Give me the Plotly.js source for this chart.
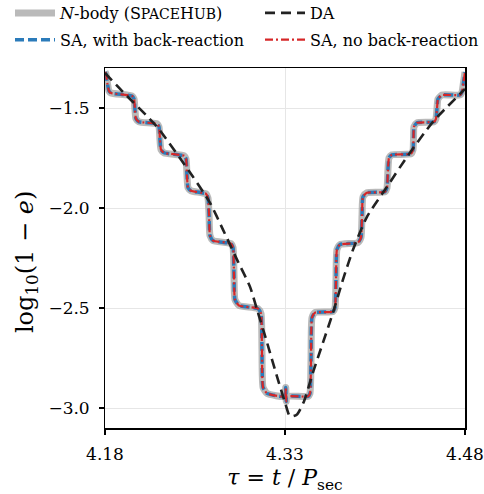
<!DOCTYPE html>
<html>
<head>
<meta charset="utf-8">
<script src="https://cdn.plot.ly/plotly-3.0.1.min.js"></script>
<style>html,body{margin:0;padding:0;background:#fff;}#chart{width:484px;height:494px;}</style>
</head>
<body>
<div id="chart"></div>
<script>
// N-body / SA staircase
const tau = [4.1800,4.1808,4.1821,4.1833,4.1850, 4.2025,4.2042,4.2050,4.2058,4.2083, 4.2233,4.2250,4.2258,4.2267,4.2292, 4.2458,4.2475,4.2483,4.2492,4.2517, 4.2642,4.2658,4.2667,4.2675,4.2700, 4.2850,4.2867,4.2875,4.2883,4.2917, 4.3075,4.3100,4.3108,4.3117,4.3150, 4.3300,4.3306,4.3310,4.3314, 4.3492,4.3508,4.3517,4.3525,4.3550, 4.3700,4.3717,4.3725,4.3733,4.3758, 4.3908,4.3933,4.3942,4.3950,4.3983, 4.4133,4.4150,4.4158,4.4167,4.4192, 4.4350,4.4367,4.4371,4.4375,4.4400, 4.4542,4.4558,4.4567,4.4575,4.4608, 4.4758,4.4775,4.4788,4.4800];
const nbody = [-1.320,-1.330,-1.380,-1.415,-1.425, -1.440,-1.455,-1.510,-1.554,-1.569, -1.579,-1.594,-1.659,-1.709,-1.724, -1.739,-1.754,-1.834,-1.899,-1.914, -1.929,-1.949,-2.034,-2.138,-2.163, -2.178,-2.198,-2.333,-2.458,-2.488, -2.503,-2.528,-2.707,-2.897,-2.927, -2.942,-2.897,-2.967,-2.942, -2.942,-2.927,-2.757,-2.548,-2.523, -2.518,-2.498,-2.358,-2.208,-2.183, -2.173,-2.148,-2.034,-1.944,-1.924, -1.919,-1.899,-1.809,-1.749,-1.734, -1.729,-1.709,-1.649,-1.594,-1.574, -1.569,-1.554,-1.500,-1.455,-1.435, -1.435,-1.420,-1.370,-1.320];
const saBack = nbody.slice();
const saNoBack = nbody.slice();
// Double-averaged curve
const daTau = [4.18, 4.195, 4.2233, 4.2533, 4.2675, 4.2783, 4.29, 4.3008, 4.3067, 4.315, 4.3233, 4.33, 4.3342, 4.34, 4.3458, 4.3533, 4.3617, 4.37, 4.3783, 4.3867, 4.3983, 4.415, 4.4317, 4.4533, 4.48];
const daLog = [-1.325, -1.420, -1.594, -1.844, -1.974, -2.108, -2.258, -2.393, -2.508, -2.672, -2.842, -2.972, -3.042, -3.032, -2.967, -2.822, -2.672, -2.523, -2.358, -2.208, -2.044, -1.894, -1.744, -1.569, -1.405];
const xTicks = [4.18, 4.33, 4.48];
const xTickText = ['4.18', '4.33', '4.48'];
const yTicks = [-1.5, -2.0, -2.5, -3.0];
const yTickText = ['\u22121.5\u00a0', '\u22122.0\u00a0', '\u22122.5\u00a0', '\u22123.0\u00a0'];
const yTitle = 'log<sub>10</sub>(1 \u2212 <i>e</i>)';
const xTitle = '<i>τ</i> = <i>t</i> / <i>P</i><sub>sec</sub>';

const FONT = 'DejaVu Serif';
const traces = [
  {x: tau, y: nbody, mode: 'lines', name: '<i>N</i>-body (S<span style="font-size:14px">PACE</span>H<span style="font-size:14px">UB</span>)',
   line: {color: 'rgba(160,160,160,0.72)', width: 7, shape: 'spline', smoothing: 0.5}, legend: 'legend', legendgroup: 'a'},
  {x: tau, y: saBack, mode: 'lines', name: 'SA, with back-reaction',
   line: {color: '#2b7bba', width: 3.5, dash: '9px,4px', shape: 'spline', smoothing: 0.5}, legend: 'legend', legendgroup: 'b'},
  {x: tau, y: saNoBack, mode: 'lines', name: 'SA, no back-reaction',
   line: {color: '#d62728', width: 2.2, dash: '8px,3px,2px,3px', shape: 'spline', smoothing: 0.5}, legend: 'legend2', legendgroup: 'd', legendrank: 2},
  {x: daTau, y: daLog, mode: 'lines', name: 'DA',
   line: {color: '#222222', width: 2.6, dash: '10px,6px', shape: 'spline', smoothing: 0.6}, legend: 'legend2', legendgroup: 'c', legendrank: 1}
];

const legCommon = {orientation: 'v', xref: 'container', yref: 'paper', xanchor: 'left', yanchor: 'top', y: 1 + 72 / 360,
  itemwidth: 40, traceorder: 'grouped', tracegroupgap: 3, bgcolor: 'rgba(0,0,0,0)',
  font: {family: FONT, size: 16, color: '#000'}};

const layout = {
  width: 484, height: 494,
  margin: {l: 105, r: 19, t: 68, b: 66, autoexpand: false},
  paper_bgcolor: '#fff', plot_bgcolor: '#fff',
  font: {family: FONT, size: 17, color: '#000'},
  showlegend: true,
  legend: Object.assign({}, legCommon, {x: 10 / 484}),
  legend2: Object.assign({}, legCommon, {x: 260 / 484}),
  xaxis: {range: [4.18, 4.48], tickvals: xTicks, ticktext: xTickText, ticks: 'outside', ticklen: 5, tickwidth: 1.2,
          tickcolor: '#000', showline: true, linecolor: '#000', linewidth: 1.5, mirror: true,
          showgrid: true, gridcolor: '#e6e6e6', gridwidth: 1, zeroline: false, ticklabelstandoff: 5,
          tickfont: {family: FONT, size: 17},
          title: {text: xTitle, font: {family: FONT, size: 22}, standoff: 8}},
  yaxis: {range: [-3.1, -1.3], tickvals: yTicks, ticktext: yTickText, ticks: 'outside', ticklen: 5, tickwidth: 1.2,
          tickcolor: '#000', showline: true, linecolor: '#000', linewidth: 1.5, mirror: true,
          showgrid: true, gridcolor: '#e6e6e6', gridwidth: 1, zeroline: false,
          tickfont: {family: FONT, size: 17}},
  annotations: [{text: yTitle, xref: 'paper', yref: 'paper', x: (26 - 105) / 360.5, y: 1 - (262 - 68) / 360,
                 xanchor: 'center', yanchor: 'middle', textangle: -90, showarrow: false,
                 font: {family: FONT, size: 24, color: '#000'}}]
};
Plotly.newPlot('chart', traces, layout, {displayModeBar: false, staticPlot: true});
</script>
</body>
</html>
